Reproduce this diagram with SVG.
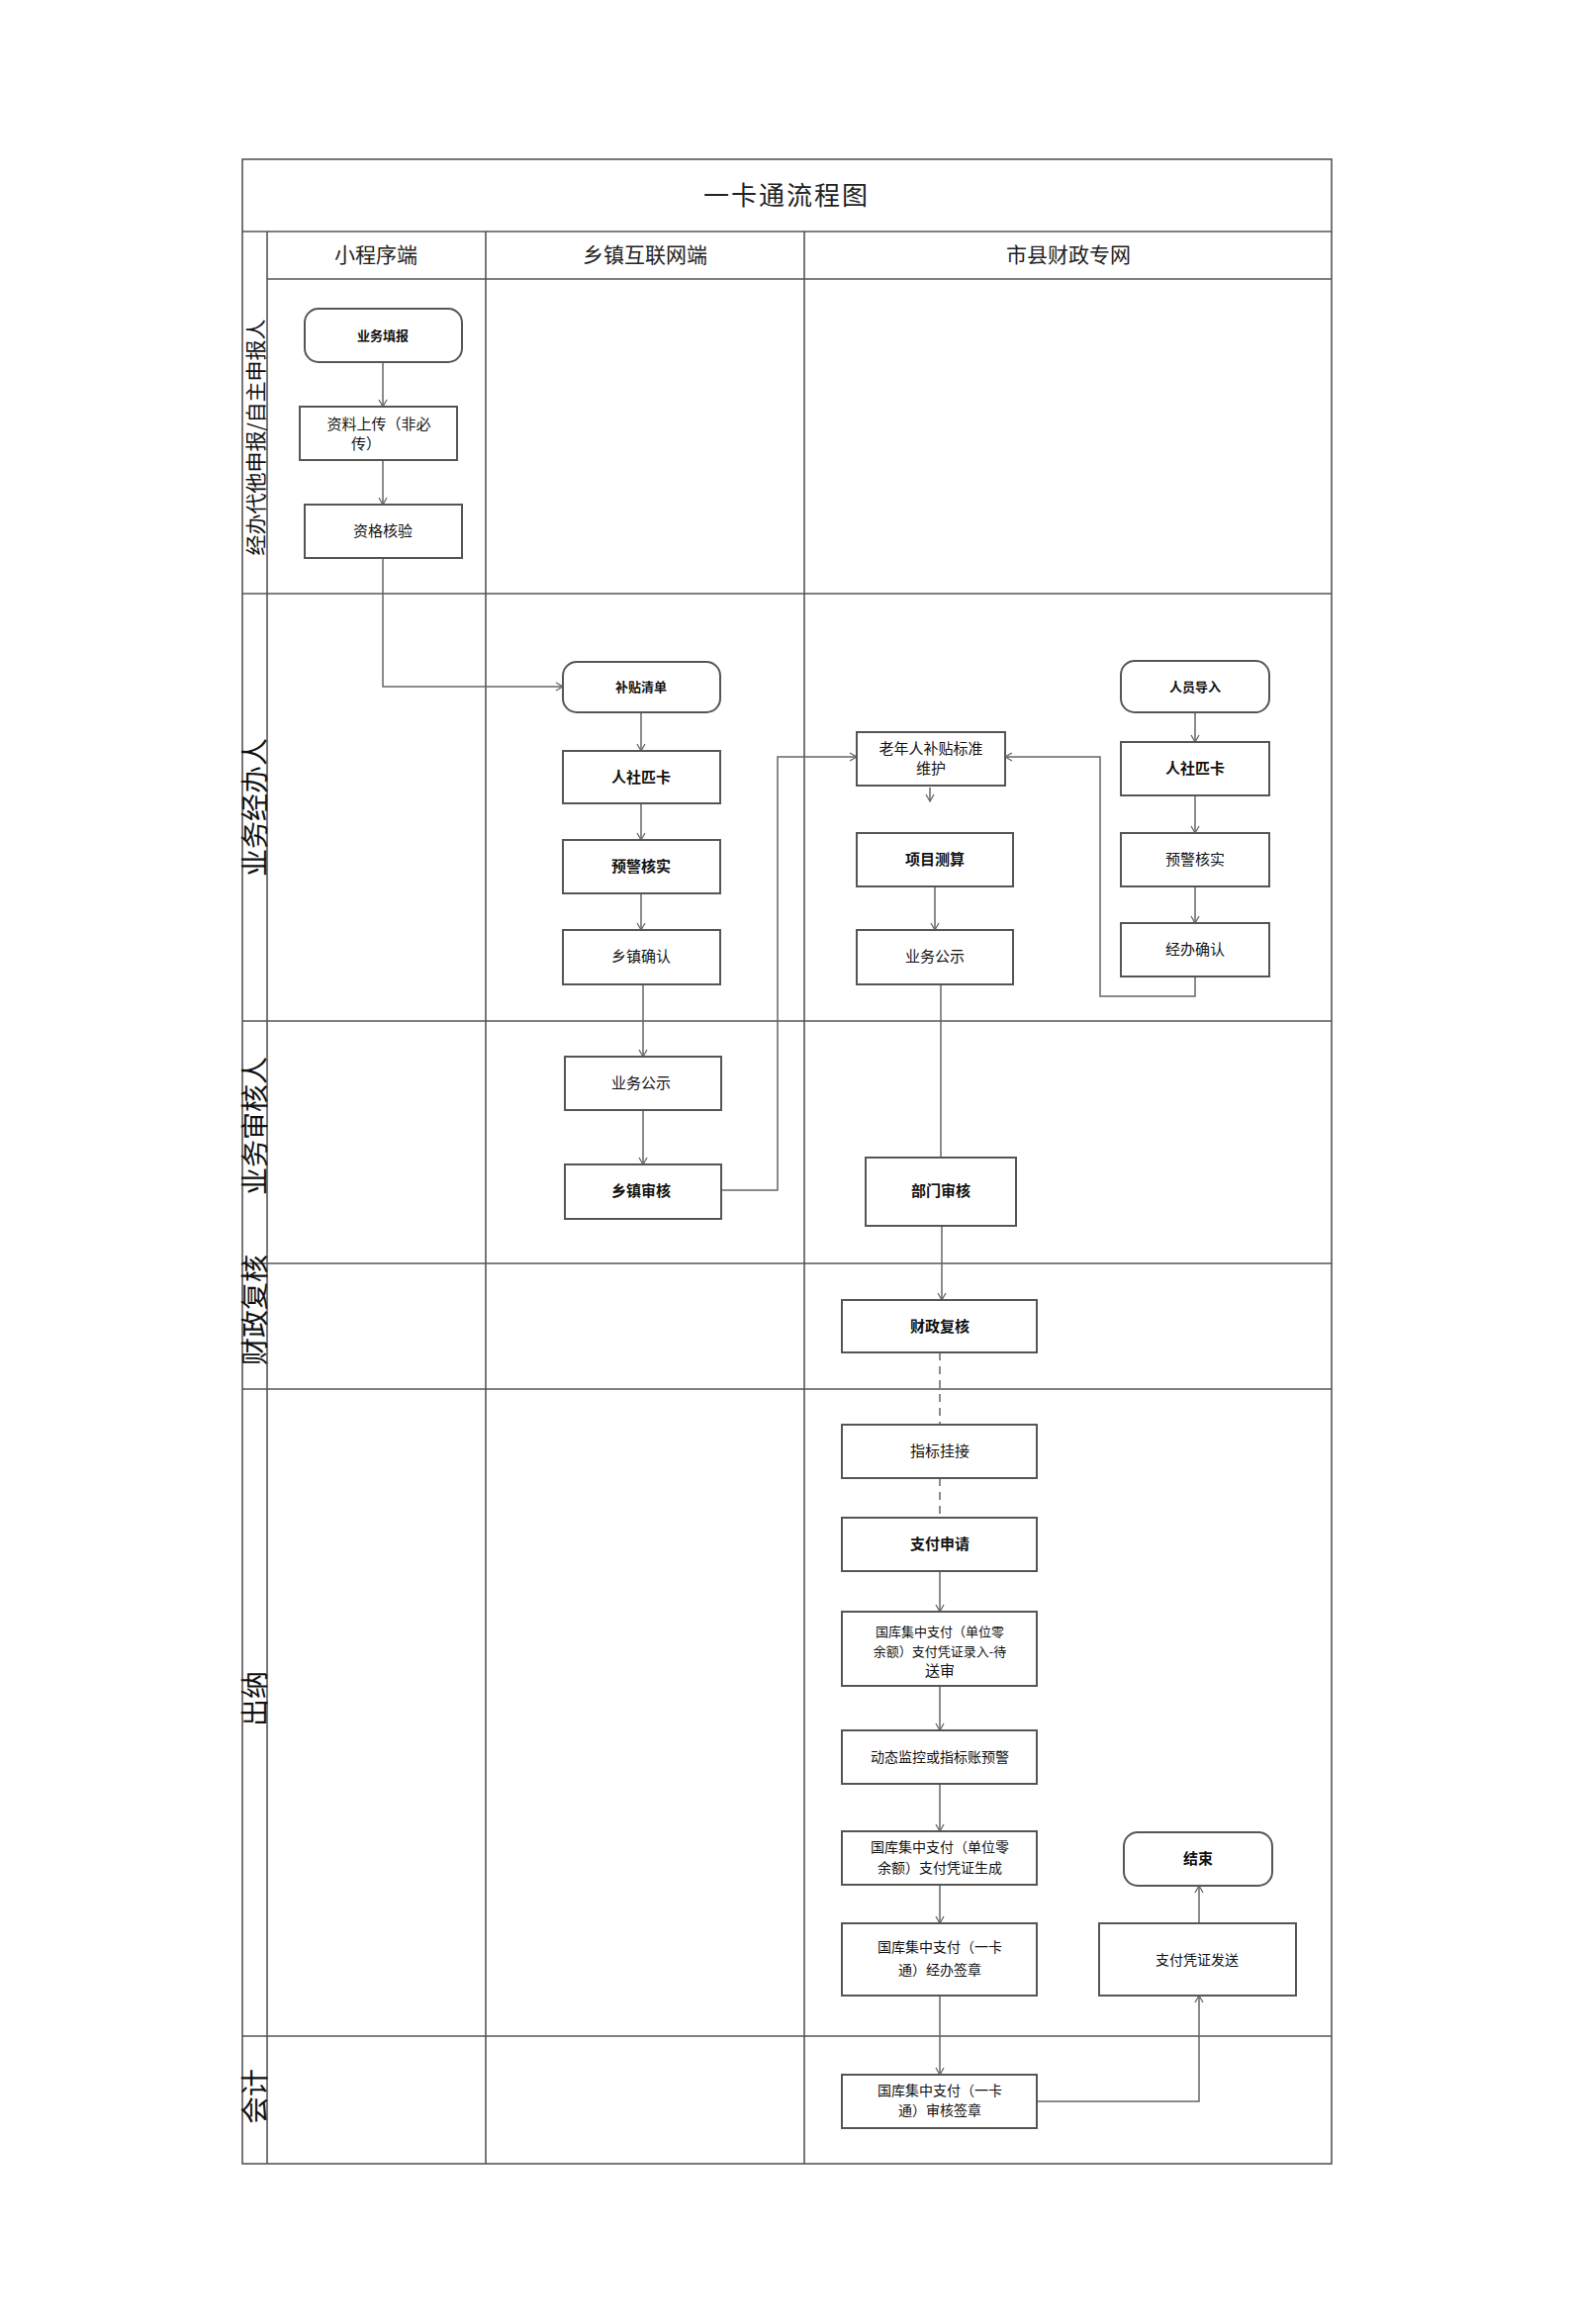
<svg xmlns="http://www.w3.org/2000/svg" width="1588" height="2349" viewBox="0 0 1588 2349">
<style>
.g{stroke:#555;stroke-width:1.6;fill:none}
.n{fill:#fff;stroke:#555;stroke-width:2}
.c{stroke:#666;stroke-width:1.5;fill:none}
.t{font-family:"Noto Sans CJK SC","Liberation Sans",sans-serif;font-size:15px;fill:#111;text-anchor:middle}
.b{font-weight:bold}
.h{font-family:"Noto Sans CJK SC","Liberation Sans",sans-serif;font-size:21px;fill:#222;text-anchor:middle}
.l{font-family:"Noto Sans CJK SC","Liberation Serif",serif;font-size:28px;fill:#111;text-anchor:middle}
</style>
<defs><marker id="a" markerWidth="10" markerHeight="10" refX="8" refY="5" orient="auto" markerUnits="userSpaceOnUse"><path d="M1,1 L8,5 L1,9" fill="none" stroke="#666" stroke-width="1.3"/></marker></defs>
<rect width="1588" height="2349" fill="#fff"/>
<g id="grid">
<rect x="245" y="161" width="1101" height="2026" class="g"/>
<line x1="245" y1="234" x2="1346" y2="234" class="g"/>
<line x1="270" y1="282" x2="1346" y2="282" class="g"/>
<line x1="270" y1="234" x2="270" y2="2187" class="g"/>
<line x1="491" y1="234" x2="491" y2="2187" class="g"/>
<line x1="813" y1="234" x2="813" y2="2187" class="g"/>
<line x1="245" y1="600" x2="1346" y2="600" class="g"/>
<line x1="245" y1="1032" x2="1346" y2="1032" class="g"/>
<line x1="245" y1="1277" x2="1346" y2="1277" class="g"/>
<line x1="245" y1="1404" x2="1346" y2="1404" class="g"/>
<line x1="245" y1="2058" x2="1346" y2="2058" class="g"/>
<text x="795" y="207" class="h" style="font-size:26px;letter-spacing:2px">一卡通流程图</text>
<text x="380" y="265" class="h">小程序端</text>
<text x="652" y="265" class="h">乡镇互联网端</text>
<text x="1080" y="265" class="h">市县财政专网</text>
<text transform="translate(266,442) rotate(-90)" class="l" style="font-size:21px">经办代他申报/自主申报人</text>
<text transform="translate(268,816) rotate(-90)" class="l">业务经办人</text>
<text transform="translate(268,1138) rotate(-90)" class="l">业务审核人</text>
<text transform="translate(268,1324) rotate(-90)" class="l">财政复核</text>
<text transform="translate(268,1717) rotate(-90)" class="l">出纳</text>
<text transform="translate(268,2119) rotate(-90)" class="l">会计</text>
</g>
<g id="connectors">
<path d="M387,366 V411" class="c" marker-end="url(#a)"/>
<path d="M387,465 V510" class="c" marker-end="url(#a)"/>
<path d="M387,564 V694 H569" class="c" marker-end="url(#a)"/>
<path d="M648,720 V759" class="c" marker-end="url(#a)"/>
<path d="M648,812 V849" class="c" marker-end="url(#a)"/>
<path d="M648,903 V940" class="c" marker-end="url(#a)"/>
<path d="M650,995 V1068" class="c" marker-end="url(#a)"/>
<path d="M650,1122 V1177" class="c" marker-end="url(#a)"/>
<path d="M729,1203 H786 V765 H866" class="c" marker-end="url(#a)"/>
<path d="M940,796 V810" class="c" stroke="#111" marker-end="url(#a)"/>
<path d="M945,896 V940" class="c" marker-end="url(#a)"/>
<path d="M951,995 V1170" class="c"/>
<path d="M952,1239 V1314" class="c" marker-end="url(#a)"/>
<path d="M950,1367 V1440" class="c" stroke-dasharray="8,6"/>
<path d="M950,1494 V1534" class="c" stroke-dasharray="8,6"/>
<path d="M950,1588 V1629" class="c" marker-end="url(#a)"/>
<path d="M950,1704 V1749" class="c" marker-end="url(#a)"/>
<path d="M950,1803 V1851" class="c" marker-end="url(#a)"/>
<path d="M950,1905 V1944" class="c" marker-end="url(#a)"/>
<path d="M950,2017 V2097" class="c" marker-end="url(#a)"/>
<path d="M1048,2124 H1212 V2017" class="c" marker-end="url(#a)"/>
<path d="M1212,1944 V1906" class="c" marker-end="url(#a)"/>
<path d="M1208,720 V750" class="c" marker-end="url(#a)"/>
<path d="M1208,804 V842" class="c" marker-end="url(#a)"/>
<path d="M1208,896 V933" class="c" marker-end="url(#a)"/>
<path d="M1208,987 V1007 H1112 V765 H1016" class="c" marker-end="url(#a)"/>
</g>
<g id="n1"><rect x="308" y="312" width="159" height="54" rx="14" class="n"/><text x="387" y="344" class="t b" style="font-size:13px">业务填报</text></g>
<g id="n2"><rect x="303" y="411" width="159" height="54" class="n"/><text x="383" y="434" class="t">资料上传（非必</text><text x="370" y="454" class="t">传）</text></g>
<g id="n3"><rect x="308" y="510" width="159" height="54" class="n"/><text x="387" y="542" class="t">资格核验</text></g>
<g id="n4"><rect x="569" y="669" width="159" height="51" rx="14" class="n"/><text x="648" y="699" class="t b" style="font-size:13px">补贴清单</text></g>
<g id="n5"><rect x="569" y="759" width="159" height="53" class="n"/><text x="648" y="791" class="t b">人社匹卡</text></g>
<g id="n6"><rect x="569" y="849" width="159" height="54" class="n"/><text x="648" y="881" class="t b">预警核实</text></g>
<g id="n7"><rect x="569" y="940" width="159" height="55" class="n"/><text x="648" y="972" class="t">乡镇确认</text></g>
<g id="n8"><rect x="571" y="1068" width="158" height="54" class="n"/><text x="648" y="1100" class="t">业务公示</text></g>
<g id="n9"><rect x="571" y="1177" width="158" height="55" class="n"/><text x="648" y="1209" class="t b">乡镇审核</text></g>
<g id="n10"><rect x="866" y="740" width="150" height="54" class="n"/><text x="941" y="762" class="t">老年人补贴标准</text><text x="941" y="782" class="t">维护</text></g>
<g id="n11"><rect x="866" y="842" width="158" height="54" class="n"/><text x="945" y="874" class="t b">项目测算</text></g>
<g id="n12"><rect x="866" y="940" width="158" height="55" class="n"/><text x="945" y="972" class="t">业务公示</text></g>
<g id="n13"><rect x="875" y="1170" width="152" height="69" class="n"/><text x="951" y="1209" class="t b">部门审核</text></g>
<g id="n14"><rect x="851" y="1314" width="197" height="53" class="n"/><text x="950" y="1346" class="t b">财政复核</text></g>
<g id="n15"><rect x="851" y="1440" width="197" height="54" class="n"/><text x="950" y="1472" class="t">指标挂接</text></g>
<g id="n16"><rect x="851" y="1534" width="197" height="54" class="n"/><text x="950" y="1566" class="t b">支付申请</text></g>
<g id="n17"><rect x="851" y="1629" width="197" height="75" class="n"/><text x="950" y="1654" class="t" style="font-size:13px">国库集中支付（单位零</text><text x="950" y="1674" class="t" style="font-size:13px">余额）支付凭证录入-待</text><text x="950" y="1694" class="t">送审</text></g>
<g id="n18"><rect x="851" y="1749" width="197" height="54" class="n"/><text x="950" y="1781" class="t" style="font-size:14px">动态监控或指标账预警</text></g>
<g id="n19"><rect x="851" y="1851" width="197" height="54" class="n"/><text x="950" y="1872" class="t" style="font-size:14px">国库集中支付（单位零</text><text x="950" y="1893" class="t" style="font-size:14px">余额）支付凭证生成</text></g>
<g id="n20"><rect x="851" y="1944" width="197" height="73" class="n"/><text x="950" y="1973" class="t" style="font-size:14px">国库集中支付（一卡</text><text x="950" y="1996" class="t" style="font-size:14px">通）经办签章</text></g>
<g id="n21"><rect x="851" y="2097" width="197" height="54" class="n"/><text x="950" y="2118" class="t" style="font-size:14px">国库集中支付（一卡</text><text x="950" y="2138" class="t" style="font-size:14px">通）审核签章</text></g>
<g id="n22"><rect x="1111" y="1944" width="199" height="73" class="n"/><text x="1210" y="1986" class="t" style="font-size:14px">支付凭证发送</text></g>
<g id="n23"><rect x="1136" y="1852" width="150" height="54" rx="14" class="n"/><text x="1211" y="1884" class="t b">结束</text></g>
<g id="n24"><rect x="1133" y="668" width="150" height="52" rx="14" class="n"/><text x="1208" y="699" class="t b" style="font-size:13px">人员导入</text></g>
<g id="n25"><rect x="1133" y="750" width="150" height="54" class="n"/><text x="1208" y="782" class="t b">人社匹卡</text></g>
<g id="n26"><rect x="1133" y="842" width="150" height="54" class="n"/><text x="1208" y="874" class="t">预警核实</text></g>
<g id="n27"><rect x="1133" y="933" width="150" height="54" class="n"/><text x="1208" y="965" class="t">经办确认</text></g>
</svg>
